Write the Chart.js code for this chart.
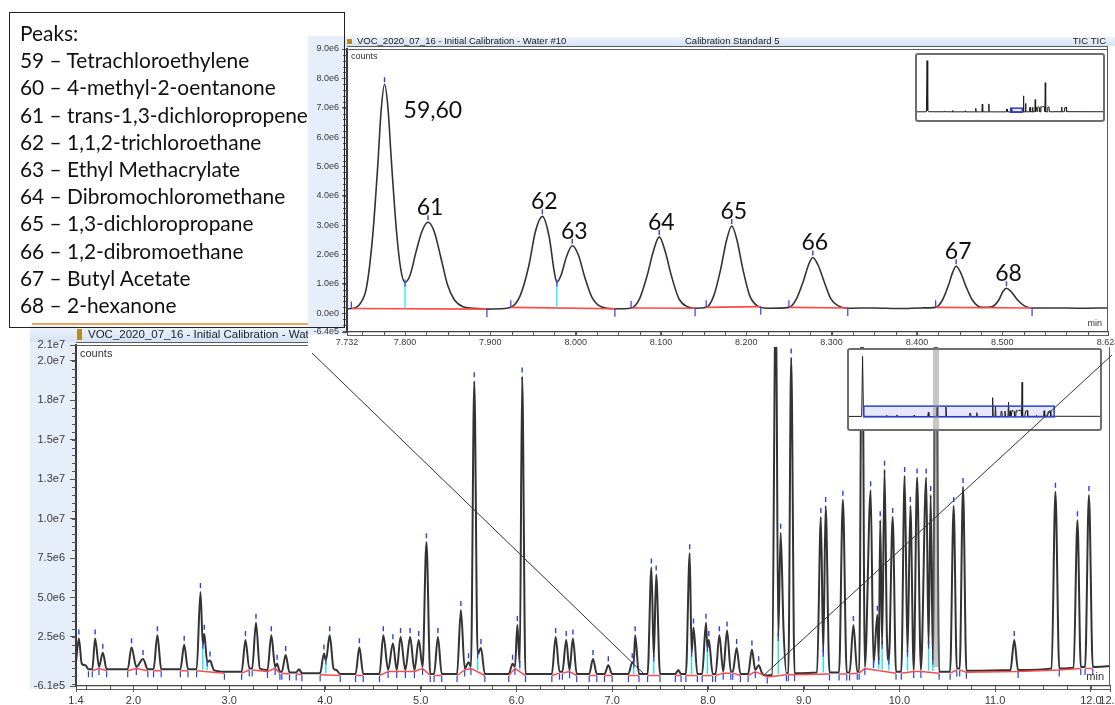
<!DOCTYPE html>
<html>
<head>
<meta charset="utf-8">
<script src="https://cdn.jsdelivr.net/npm/chart.js@4.4.1/dist/chart.umd.min.js"></script>
<style>
  html, body { margin: 0; padding: 0; background: #fff; }
  body { width: 1115px; height: 705px; position: relative; overflow: hidden; font-family: Arial, "Liberation Sans", sans-serif; }
  .abs { position: absolute; }
  #mainWrap { left: 0; top: 326px; width: 1115px; height: 379px; }
  #insetWrap { left: 308px; top: 36px; width: 807px; height: 311px; }
  #mainThumb { left: 847px; top: 348px; width: 251px; height: 79px; border: 2px solid #6e6e6e; border-radius: 3px; background: #fff; }
  #insetThumb { left: 915px; top: 53px; width: 186px; height: 65px; border: 2px solid #6e6e6e; border-radius: 3px; background: #fff; }
  #band { background: rgba(130,130,130,0.45); }
  #orange { left: 32px; top: 323px; width: 278px; height: 2px; background: #e9a55c; }
  #legend { left: 9px; top: 12px; width: 324px; height: 308px; border: 1.5px solid #222;
            padding: 6px 0 0 10px; font-family: Lato, "Open Sans", sans-serif; font-size: 20.9px;
            line-height: 27.2px; color: #111; white-space: nowrap; }
  canvas { display: block; }
</style>
</head>
<body>

<div id="mainWrap" class="abs"><canvas id="mainChart" width="1115" height="379"></canvas></div>
<div id="mainThumb" class="abs"><canvas id="mainThumbChart" width="251" height="79"></canvas></div>
<div id="band" class="abs"></div>
<svg class="abs" style="left:0;top:0" width="1115" height="705">
  <line x1="312" y1="353" x2="645" y2="675" stroke="#333" stroke-width="1"/>
  <line x1="763" y1="676" x2="1112" y2="355" stroke="#333" stroke-width="1"/>
</svg>
<div id="orange" class="abs"></div>
<div id="insetWrap" class="abs"><canvas id="insetChart" width="807" height="311"></canvas></div>
<div id="insetThumb" class="abs"><canvas id="insetThumbChart" width="186" height="65"></canvas></div>

<div id="legend" class="abs">
  <div>Peaks:</div>
  <div>59 – Tetrachloroethylene</div>
  <div>60 – 4-methyl-2-oentanone</div>
  <div>61 – trans-1,3-dichloropropene</div>
  <div>62 – 1,1,2-trichloroethane</div>
  <div>63 – Ethyl Methacrylate</div>
  <div>64 – Dibromochloromethane</div>
  <div>65 – 1,3-dichloropropane</div>
  <div>66 – 1,2-dibromoethane</div>
  <div>67 – Butyl Acetate</div>
  <div>68 – 2-hexanone</div>
</div>

<script>
// full run, 1.4 - 12.2 min: [time, counts]
const mainTrace = [
  [1.40,0.9e6],[1.43,2.4e6],[1.46,0.8e6],[1.50,0.7e6],[1.53,0.45e6],[1.57,0.45e6],[1.60,2.4e6],[1.64,0.6e6],[1.68,1.5e6],[1.72,0.45e6],
  [1.94,0.45e6],[1.98,1.85e6],[2.03,0.6e6],[2.10,1.1e6],[2.15,0.45e6],[2.21,0.45e6],[2.25,2.6e6],[2.29,0.45e6],
  [2.49,0.45e6],[2.53,2.0e6],[2.57,0.45e6],[2.66,0.45e6],[2.70,5.35e6],[2.725,2.0e6],[2.74,2.7e6],[2.77,0.9e6],[2.80,1.0e6],[2.84,0.4e6],
  [2.95,0.3e6],[3.13,0.3e6],[3.17,2.3e6],[3.21,0.5e6],[3.24,0.5e6],[3.28,3.4e6],[3.32,0.5e6],[3.40,0.4e6],[3.44,2.6e6],[3.48,0.6e6],
  [3.50,0.8e6],[3.53,0.3e6],[3.55,0.3e6],[3.59,1.35e6],[3.63,0.25e6],[3.70,0.25e6],[3.73,0.45e6],[3.76,0.2e6],
  [3.95,0.2e6],[3.99,1.45e6],[4.01,1.0e6],[4.05,2.6e6],[4.09,0.5e6],[4.12,0.4e6],[4.16,0.15e6],
  [4.32,0.15e6],[4.36,1.85e6],[4.40,0.15e6],[4.57,0.15e6],[4.61,2.6e6],[4.66,0.4e6],[4.71,2.1e6],[4.75,0.4e6],[4.79,2.5e6],[4.84,0.4e6],
  [4.89,2.5e6],[4.935,0.4e6],[4.98,2.3e6],[5.02,0.6e6],[5.06,8.5e6],[5.10,0.15e6],[5.14,0.15e6],[5.18,2.5e6],[5.22,0.15e6],
  [5.38,0.15e6],[5.42,4.2e6],[5.46,0.5e6],[5.50,0.9e6],[5.525,0.6e6],[5.56,18.7e6],[5.595,1.4e6],[5.63,1.8e6],[5.67,0.15e6],
  [5.92,0.15e6],[5.96,0.8e6],[5.985,0.6e6],[6.01,3.25e6],[6.035,0.8e6],[6.06,19.0e6],[6.095,0.15e6],
  [6.37,0.15e6],[6.41,2.5e6],[6.45,0.3e6],[6.48,0.3e6],[6.52,2.3e6],[6.555,0.4e6],[6.59,2.4e6],[6.63,0.15e6],
  [6.76,0.15e6],[6.80,1.1e6],[6.84,0.15e6],[6.92,0.15e6],[6.96,0.7e6],[7.00,0.15e6],
  [7.17,0.15e6],[7.21,0.9e6],[7.225,0.8e6],[7.24,2.6e6],[7.28,0.15e6],
  [7.37,0.15e6],[7.41,6.9e6],[7.435,1.2e6],[7.46,6.45e6],[7.50,0.15e6],[7.66,0.15e6],[7.69,0.4e6],[7.72,0.15e6],
  [7.77,0.15e6],[7.81,7.8e6],[7.83,1.5e6],[7.85,3.1e6],[7.89,0.15e6],[7.94,0.15e6],[7.98,3.4e6],[7.995,1.8e6],[8.01,2.3e6],[8.05,0.15e6],
  [8.08,0.15e6],[8.12,2.6e6],[8.16,0.3e6],[8.20,2.9e6],[8.24,0.3e6],[8.26,0.3e6],[8.30,1.8e6],[8.34,0.15e6],
  [8.42,0.15e6],[8.46,1.7e6],[8.495,0.4e6],[8.53,0.7e6],[8.57,0.15e6],
  [8.62,0.06e6],[8.67,0.1e6],[8.71,25e6],[8.735,2.5e6],[8.76,9.1e6],[8.79,3.0e6],[8.82,0.2e6],[8.84,0.2e6],[8.87,20.2e6],[8.905,0.2e6],
  [9.14,0.25e6],[9.18,10.1e6],[9.205,1.5e6],[9.23,10.8e6],[9.27,0.25e6],
  [9.37,0.25e6],[9.41,11.2e6],[9.45,0.25e6],[9.48,0.25e6],[9.52,3.25e6],[9.56,0.3e6],[9.58,0.3e6],[9.61,26e6],[9.64,0.6e6],
  [9.70,11.8e6],[9.73,0.8e6],[9.77,3.9e6],[9.785,1.0e6],[9.80,9.9e6],[9.82,2.0e6],[9.845,13.1e6],[9.87,2.5e6],[9.89,1.0e6],[9.93,10.1e6],[9.965,0.3e6],
  [10.02,0.3e6],[10.055,12.7e6],[10.085,1.5e6],[10.115,10.8e6],[10.15,0.4e6],[10.185,12.6e6],[10.225,0.4e6],[10.28,12.6e6],[10.305,2.0e6],
  [10.327,11.5e6],[10.35,1.0e6],[10.38,27e6],[10.415,0.3e6],
  [10.53,0.3e6],[10.567,10.8e6],[10.60,0.5e6],[10.63,0.5e6],[10.665,12.0e6],[10.70,0.35e6],
  [11.16,0.4e6],[11.20,2.3e6],[11.24,0.4e6],[11.59,0.5e6],[11.63,11.7e6],[11.67,0.5e6],
  [11.82,0.55e6],[11.86,9.9e6],[11.895,0.6e6],[11.94,0.6e6],[11.98,11.5e6],[12.02,0.6e6],[12.20,0.65e6]
];
const mainXTicks = [1.4, 2, 3, 4, 5, 6, 7, 8, 9, 10, 11, 12, 12.2];
const mainYTicks = [-6.1e5, 2.5e6, 5e6, 7.5e6, 1e7, 1.25e7, 1.5e7, 1.75e7, 2e7, 2.1e7];

// zoomed window 7.732 - 8.624 min
const insetTrace = [
  [7.732,0.15e6],[7.740,0.17e6],[7.748,0.35e6],[7.755,0.9e6],[7.762,2.6e6],[7.768,5.0e6],[7.772,6.9e6],[7.776,7.8e6],[7.780,7.0e6],
  [7.784,5.2e6],[7.790,2.8e6],[7.795,1.5e6],[7.800,1.05e6],
  [7.806,1.3e6],[7.813,2.1e6],[7.820,2.8e6],[7.827,3.1e6],[7.834,2.8e6],[7.842,1.9e6],[7.850,0.95e6],[7.858,0.45e6],[7.868,0.22e6],[7.880,0.17e6],
  [7.896,0.14e6],[7.912,0.15e6],[7.924,0.2e6],[7.935,0.6e6],[7.945,1.6e6],[7.953,2.8e6],[7.961,3.3e6],[7.969,2.6e6],[7.975,1.4e6],[7.978,1.05e6],
  [7.983,1.3e6],[7.989,1.9e6],[7.996,2.3e6],[8.003,2.0e6],[8.011,1.2e6],[8.019,0.55e6],[8.030,0.22e6],[8.046,0.15e6],
  [8.065,0.18e6],[8.075,0.5e6],[8.084,1.3e6],[8.091,2.1e6],[8.098,2.6e6],[8.105,2.1e6],[8.112,1.3e6],[8.121,0.5e6],[8.131,0.22e6],[8.140,0.17e6],
  [8.153,0.2e6],[8.162,0.6e6],[8.170,1.5e6],[8.177,2.5e6],[8.183,2.97e6],[8.189,2.5e6],[8.196,1.5e6],[8.204,0.6e6],[8.213,0.25e6],[8.225,0.17e6],
  [8.250,0.2e6],[8.259,0.5e6],[8.267,1.1e6],[8.273,1.65e6],[8.278,1.9e6],[8.284,1.65e6],[8.291,1.1e6],[8.299,0.5e6],[8.308,0.25e6],[8.320,0.17e6],
  [8.350,0.18e6],[8.380,0.16e6],[8.405,0.18e6],
  [8.422,0.2e6],[8.430,0.45e6],[8.437,0.95e6],[8.442,1.4e6],[8.446,1.6e6],[8.451,1.4e6],[8.457,0.95e6],[8.465,0.45e6],[8.476,0.2e6],
  [8.488,0.22e6],[8.496,0.45e6],[8.501,0.75e6],[8.505,0.85e6],[8.510,0.75e6],[8.518,0.45e6],[8.526,0.25e6],[8.535,0.18e6],
  [8.560,0.18e6],[8.590,0.17e6],[8.624,0.18e6]
];
const insetXTicks = [7.732, 7.8, 7.9, 8.0, 8.1, 8.2, 8.3, 8.4, 8.5, 8.624];
const insetYTicks = [-6.4e5, 0, 1e6, 2e6, 3e6, 4e6, 5e6, 6e6, 7e6, 8e6, 9e6];
const insetPeakStarts = [7.737, 7.924, 8.065, 8.153, 8.250, 8.422];
const insetPeakEnds   = [7.896, 8.046, 8.140, 8.217, 8.319, 8.535];
const insetDropTimes  = [7.800, 7.978];
const insetLabels     = ['59,60', '61', '62', '63', '64', '65', '66', '67', '68'];
const insetLabelTimes = [7.776, 7.827, 7.961, 7.996, 8.098, 8.183, 8.278, 8.446, 8.505];

// whole-run overview shown in the two thumbnails
const overviewTrace = [
  [0.56,0.3e6],[1.28,0.4e6],[1.33,121e6],[1.38,3e6],[1.45,0.5e6],
  [2.66,0.4e6],[2.70,2.6e6],[2.74,0.4e6],[3.25,0.3e6],[3.28,3.4e6],[3.31,0.3e6],
  [4.22,0.2e6],[4.25,2.6e6],[4.28,0.2e6],[5.03,0.2e6],[5.06,8.5e6],[5.09,0.2e6],
  [5.53,0.2e6],[5.56,18.7e6],[5.59,0.2e6],[6.03,0.2e6],[6.06,19e6],[6.09,0.2e6],
  [7.38,0.2e6],[7.41,6.9e6],[7.46,6.4e6],[7.49,0.2e6],[7.78,0.2e6],[7.81,7.8e6],[7.84,0.2e6],
  [8.68,0.1e6],[8.71,38e6],[8.74,0.3e6],[8.84,0.3e6],[8.87,20e6],[8.90,0.3e6],
  [9.15,0.3e6],[9.18,10e6],[9.23,10.8e6],[9.26,0.3e6],[9.38,0.3e6],[9.41,11e6],[9.44,0.3e6],
  [9.58,0.3e6],[9.61,29e6],[9.64,0.5e6],[9.70,11.8e6],[9.75,1e6],[9.80,9.9e6],[9.845,13e6],[9.93,10e6],[9.96,0.4e6],
  [10.02,0.4e6],[10.05,12.7e6],[10.11,10.8e6],[10.185,12.6e6],[10.28,12.6e6],[10.33,11.5e6],[10.35,1e6],[10.38,69e6],[10.41,0.4e6],
  [10.54,0.4e6],[10.57,10.8e6],[10.665,12e6],[10.70,0.4e6],[11.17,0.5e6],[11.20,2.3e6],[11.23,0.5e6],
  [11.60,0.5e6],[11.63,11.7e6],[11.66,0.5e6],[11.83,0.6e6],[11.86,9.9e6],[11.98,11.5e6],[12.01,0.6e6],[14.8,0.5e6]
];
const highlightBand = [10.355, 10.41];

function fmtExp(v) { return v.toExponential(1).replace('e+', 'e'); }

function valueAt(tr, t) {
  for (let i = 1; i < tr.length; i++) {
    if (tr[i][0] >= t) {
      const [t0, v0] = tr[i - 1], [t1, v1] = tr[i];
      return v0 + (v1 - v0) * (t - t0) / (t1 - t0);
    }
  }
  return tr[tr.length - 1][1];
}

function line(ctx, x1, y1, x2, y2) { ctx.moveTo(x1, y1); ctx.lineTo(x2, y2); }

const BLUE = '#2d3fe0', RED = '#ff4a4a', CYAN = '#18e6f0';

const chromPlugin = {
  id: 'chrom',
  beforeDraw(chart, args, o) {
    const { ctx, chartArea: a } = chart;
    const W = chart.width;
    ctx.save();
    if (o.fillAll) { ctx.fillStyle = '#fff'; ctx.fillRect(0, 0, W, chart.height); }
    ctx.fillStyle = '#e5eef9';
    ctx.fillRect(o.colLeft, 0, a.left - o.colLeft, a.bottom + 3);
    const g = ctx.createLinearGradient(0, 1, 0, a.top - 2);
    g.addColorStop(0, '#edf3fb'); g.addColorStop(1, '#d3e1f3');
    ctx.fillStyle = g;
    ctx.fillRect(o.barLeft, 1, W - o.barLeft, a.top - 4);
    ctx.fillStyle = '#fff';
    ctx.fillRect(a.left, a.top, a.right - a.left, a.bottom - a.top);
    ctx.fillStyle = '#b58b25';
    ctx.fillRect(o.iconX, 3, 5, a.top - 8);
    ctx.fillStyle = '#222';
    ctx.font = o.titleFont;
    ctx.textBaseline = 'alphabetic';
    o.titles.forEach(tt => { ctx.textAlign = tt.align || 'left'; ctx.fillText(tt.text, tt.x, a.top - o.titleRise); });
    ctx.restore();
  },
  afterDatasetsDraw(chart, args, o) {
    const { ctx, chartArea: a, scales: { x, y } } = chart;
    const tr = o.trace;
    const P = (t, v) => [x.getPixelForValue(t), y.getPixelForValue(v)];
    ctx.save();
    ctx.beginPath(); ctx.rect(a.left, a.top, a.right - a.left, a.bottom - a.top + 10); ctx.clip();
    ctx.lineWidth = 1.2;

    if (o.auto) {
      // feet and apexes found in the trace itself
      const feet = [];
      let peakSince = false;
      for (let i = 1; i < tr.length - 1; i++) {
        const v = tr[i][1], p = tr[i - 1][1], n = tr[i + 1][1];
        if (v > p && v > n) peakSince = true;
        if (v <= p && v <= n && (v < p || v < n)) { feet.push({ t: tr[i][0], v, peak: peakSince }); peakSince = false; }
      }
      const lows = feet.filter(f => f.v < 0.75e6);
      ctx.strokeStyle = RED; ctx.lineWidth = 1.5; ctx.beginPath();
      for (let k = 1; k < lows.length; k++) {
        const f1 = lows[k - 1], f2 = lows[k];
        if (f2.t - f1.t > 0.6) continue;
        const between = feet.filter(f => f.t > f1.t && f.t <= f2.t);
        if (!between.some(f => f.peak)) continue;
        const [x1, y1] = P(f1.t, f1.v), [x2, y2] = P(f2.t, f2.v);
        line(ctx, x1, y1 + 1.5, x2, y2 + 1.5);
      }
      ctx.stroke();
      ctx.lineWidth = 1.4;
      ctx.strokeStyle = CYAN; ctx.beginPath();
      feet.filter(f => f.v >= 0.75e6).forEach(f => {
        const l1 = [...lows].reverse().find(l => l.t < f.t), l2 = lows.find(l => l.t > f.t);
        if (!l1 || !l2) return;
        const base = l1.v + (l2.v - l1.v) * (f.t - l1.t) / (l2.t - l1.t);
        const [px, py] = P(f.t, f.v), [, pb] = P(f.t, base);
        line(ctx, px, py, px, pb);
      });
      ctx.stroke();
      ctx.lineWidth = 1.2;
      ctx.strokeStyle = BLUE; ctx.beginPath();
      feet.forEach(f => {
        const [px, py] = P(f.t, f.v);
        if (f.v < 0.75e6) line(ctx, px, py + 2, px, py + 8); else line(ctx, px, py - 3, px, py + 4);
      });
      ctx.stroke();
    } else {
      ctx.strokeStyle = RED; ctx.lineWidth = 1.6; ctx.beginPath();
      o.starts.forEach((s, i) => {
        const [x1, y1] = P(s, valueAt(tr, s)), [x2, y2] = P(o.ends[i], valueAt(tr, o.ends[i]));
        line(ctx, x1, y1, x2, y2);
      });
      ctx.stroke();
      ctx.lineWidth = 1.2;
      ctx.strokeStyle = CYAN; ctx.beginPath();
      o.drops.forEach(t => {
        const k = o.starts.findIndex((s, i) => s < t && o.ends[i] > t);
        const s = o.starts[k], e = o.ends[k], vs = valueAt(tr, s), ve = valueAt(tr, e);
        const base = vs + (ve - vs) * (t - s) / (e - s);
        const [px, py] = P(t, valueAt(tr, t)), [, pb] = P(t, base);
        line(ctx, px, py, px, pb);
      });
      ctx.stroke();
      ctx.strokeStyle = BLUE; ctx.beginPath();
      o.starts.forEach(s => { const [px, py] = P(s, valueAt(tr, s)); line(ctx, px, py - 7, px, py); });
      o.ends.forEach(e => { const [px, py] = P(e, valueAt(tr, e)); line(ctx, px, py, px, py + 8); });
      o.drops.forEach(t => { const [px, py] = P(t, valueAt(tr, t)); line(ctx, px, py - 3, px, py + 4); });
      ctx.stroke();
    }

    // apex marks
    ctx.strokeStyle = BLUE; ctx.lineWidth = 1.4; ctx.beginPath();
    for (let i = 1; i < tr.length - 1; i++) {
      const [t, v] = tr[i];
      if (v > tr[i - 1][1] && v > tr[i + 1][1] && v >= o.apexMin) {
        const [px, py] = P(t, v);
        line(ctx, px, py - o.apexGap - 5, px, py - o.apexGap);
      }
    }
    ctx.stroke();
    ctx.restore();

    if (o.labels) {
      ctx.save();
      ctx.font = '23px Lato, "Open Sans", sans-serif';
      ctx.fillStyle = '#111';
      ctx.textBaseline = 'alphabetic';
      o.labels.forEach((txt, i) => {
        const t = o.labelTimes[i];
        const [px, py] = P(t, valueAt(tr, t));
        if (i === 0) { ctx.textAlign = 'left'; ctx.fillText(txt, px + 19, py + 34); }
        else { ctx.textAlign = 'center'; ctx.fillText(txt, px + 2, py - 7); }
      });
      ctx.restore();
    }
  },
  afterDraw(chart, args, o) {
    const { ctx, chartArea: a, scales: { x, y } } = chart;
    ctx.save();
    ctx.strokeStyle = '#5c5c5c'; ctx.lineWidth = 1;
    ctx.beginPath();
    line(ctx, a.left, a.top + 0.5, a.right, a.top + 0.5);
    line(ctx, a.left, a.top - 2.5, a.right, a.top - 2.5);
    line(ctx, a.right - 0.5, a.top - 3, a.right - 0.5, a.bottom);
    line(ctx, a.left, a.bottom + 3.5, a.right, a.bottom + 3.5);
    ctx.stroke();
    // minor ticks
    ctx.strokeStyle = '#555'; ctx.beginPath();
    for (let k = Math.ceil(y.min / o.yMinor); k * o.yMinor <= y.max; k++) {
      const py = Math.round(y.getPixelForValue(k * o.yMinor)) + 0.5;
      line(ctx, a.left - 4, py, a.left, py);
    }
    for (let k = Math.ceil(x.min / o.xMinor - 1e-6); k * o.xMinor <= x.max + 1e-6; k++) {
      const px = Math.round(x.getPixelForValue(k * o.xMinor)) + 0.5;
      line(ctx, px, a.bottom, px, a.bottom + 4);
    }
    ctx.stroke();
    ctx.fillStyle = '#333';
    ctx.font = o.smallFont;
    ctx.textAlign = 'left'; ctx.textBaseline = 'top';
    ctx.fillText('counts', a.left + 4, a.top + o.countsGap);
    ctx.textAlign = 'right'; ctx.textBaseline = 'bottom';
    ctx.fillText('min', a.right - 6, a.bottom - 4);
    ctx.restore();
  }
};

const thumbPlugin = {
  id: 'thumb',
  beforeDatasetsDraw(chart, args, o) {
    const { ctx, scales: { x, y } } = chart;
    const x0 = x.getPixelForValue(o.range[0]), x1 = x.getPixelForValue(o.range[1]);
    const y0 = y.getPixelForValue(o.range[2]), y1 = y.getPixelForValue(o.range[3]);
    ctx.save();
    ctx.fillStyle = 'rgba(170,178,245,0.3)';
    ctx.fillRect(x0, y1, x1 - x0, y0 - y1);
    ctx.restore();
  },
  afterDatasetsDraw(chart, args, o) {
    const { ctx, scales: { x, y } } = chart;
    const x0 = x.getPixelForValue(o.range[0]), x1 = x.getPixelForValue(o.range[1]);
    const y0 = y.getPixelForValue(o.range[2]), y1 = y.getPixelForValue(o.range[3]);
    ctx.save();
    ctx.strokeStyle = '#2f3fd4'; ctx.lineWidth = 1.5;
    ctx.strokeRect(x0, y1, x1 - x0, y0 - y1);
    ctx.restore();
  }
};

function axisX(ticks, min, max, height, fontSize, digits, tickLen, pad) {
  return {
    type: 'linear', min, max,
    afterBuildTicks: s => { s.ticks = ticks.map(v => ({ value: v })); },
    afterFit: s => { s.height = height; s.paddingLeft = 0; s.paddingRight = 0; },
    ticks: { autoSkip: false, maxRotation: 0, minRotation: 0, padding: pad, color: '#3a3a3a',
             font: { family: 'Arial, "Liberation Sans", sans-serif', size: fontSize }, callback: v => v.toFixed(digits) },
    grid: { drawOnChartArea: false, drawTicks: true, tickLength: tickLen, color: '#555' },
    border: { display: true, color: '#444', width: 1.2 }
  };
}
function axisY(ticks, min, max, width, fontSize, tickLen, pad) {
  return {
    type: 'linear', min, max,
    afterBuildTicks: s => { s.ticks = ticks.map(v => ({ value: v })); },
    afterFit: s => { s.width = width; s.paddingTop = 0; s.paddingBottom = 0; },
    ticks: { autoSkip: false, padding: pad, color: '#3a3a3a',
             font: { family: 'Arial, "Liberation Sans", sans-serif', size: fontSize }, callback: fmtExp },
    grid: { drawOnChartArea: false, drawTicks: true, tickLength: tickLen, color: '#555' },
    border: { display: true, color: '#3a3a3a', width: 2 }
  };
}

const mainChart = new Chart(document.getElementById('mainChart'), {
  type: 'line',
  data: { datasets: [{
    data: mainTrace.map(([t, v]) => ({ x: t, y: v })),
    borderColor: '#333', borderWidth: 2, pointRadius: 0, cubicInterpolationMode: 'monotone'
  }] },
  options: {
    responsive: false, animation: false, events: [],
    layout: { padding: { top: 19, right: 5, left: 0, bottom: 0 } },
    plugins: {
      legend: { display: false }, tooltip: { enabled: false },
      chrom: {
        trace: mainTrace, auto: true, apexMin: 0.6e6, apexGap: 4,
        colLeft: 30, barLeft: 30, iconX: 77,
        titleFont: '11.5px Arial, "Liberation Sans", sans-serif', titleRise: 7,
        titles: [{ text: 'VOC_2020_07_16 - Initial Calibration - Water #10', x: 88 }],
        yMinor: 5e5, xMinor: 0.25, smallFont: '11px Arial, "Liberation Sans", sans-serif', countsGap: 3
      }
    },
    scales: {
      x: axisX(mainXTicks, 1.4, 12.2, 19, 11, 1, 6, 2),
      y: axisY(mainYTicks, -6.1e5, 2.1e7, 76, 11, 6, 5)
    }
  },
  plugins: [chromPlugin]
});

new Chart(document.getElementById('insetChart'), {
  type: 'line',
  data: { datasets: [{
    data: insetTrace.map(([t, v]) => ({ x: t, y: v })),
    borderColor: '#333', borderWidth: 1.6, pointRadius: 0, cubicInterpolationMode: 'monotone'
  }] },
  options: {
    responsive: false, animation: false, events: [],
    layout: { padding: { top: 13, right: 7, left: 0, bottom: 0 } },
    plugins: {
      legend: { display: false }, tooltip: { enabled: false },
      chrom: {
        trace: insetTrace, auto: false, apexMin: 0.5e6, apexGap: 2,
        starts: insetPeakStarts, ends: insetPeakEnds, drops: insetDropTimes,
        labels: insetLabels, labelTimes: insetLabelTimes,
        fillAll: true, colLeft: 0, barLeft: 35, iconX: 39,
        titleFont: '9.5px Arial, "Liberation Sans", sans-serif', titleRise: 5,
        titles: [
          { text: 'VOC_2020_07_16 - Initial Calibration - Water #10', x: 49 },
          { text: 'Calibration Standard 5', x: 377 },
          { text: 'TIC TIC', x: 798, align: 'right' }
        ],
        yMinor: 2e5, xMinor: 0.025, smallFont: '9px Arial, "Liberation Sans", sans-serif', countsGap: 3
      }
    },
    scales: {
      x: axisX(insetXTicks, 7.732, 8.624, 15, 9, 3, 4, 1),
      y: axisY(insetYTicks, -6.4e5, 9.0e6, 39, 9, 5, 3)
    }
  },
  plugins: [chromPlugin]
});

function thumbChart(id, range, yMin, yMax) {
  return new Chart(document.getElementById(id), {
    type: 'line',
    data: { datasets: [{
      data: overviewTrace.map(([t, v]) => ({ x: t, y: v })),
      borderColor: '#1e1e1e', borderWidth: 1, pointRadius: 0, tension: 0
    }] },
    options: {
      responsive: false, animation: false, events: [],
      layout: { padding: 0 },
      plugins: { legend: { display: false }, tooltip: { enabled: false }, thumb: { range } },
      scales: {
        x: { type: 'linear', display: false, min: 0.56, max: 14.8 },
        y: { type: 'linear', display: false, min: yMin, max: yMax }
      }
    },
    plugins: [thumbPlugin]
  });
}
thumbChart('mainThumbChart', [1.4, 12.2, -6.1e5, 2.1e7], -2.5e7, 1.34e8);
thumbChart('insetThumbChart', [7.732, 8.624, -6.4e5, 9.0e6], -1.9e7, 1.345e8);

// grey highlight band placed from the main chart's own scales
const band = document.getElementById('band');
const bx0 = mainChart.scales.x.getPixelForValue(highlightBand[0]);
const bx1 = mainChart.scales.x.getPixelForValue(highlightBand[1]);
const by1 = mainChart.scales.y.getPixelForValue(0.6e6);
band.style.left = bx0 + 'px';
band.style.width = (bx1 - bx0) + 'px';
band.style.top = (326 + mainChart.chartArea.top) + 'px';
band.style.height = (by1 - mainChart.chartArea.top) + 'px';
</script>
</body>
</html>
